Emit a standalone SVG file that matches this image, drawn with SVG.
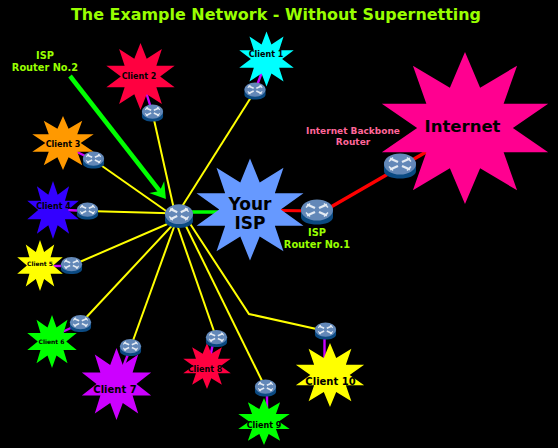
<svg xmlns="http://www.w3.org/2000/svg" xmlns:xlink="http://www.w3.org/1999/xlink" width="558" height="448" viewBox="0 0 558 448">
<style>
text{font-family:"DejaVu Sans","Liberation Sans",sans-serif;font-weight:bold;text-anchor:middle}
.lbl{fill:#99ff00;font-size:9.800px}
.cl{fill:#000;font-size:8px}
.y{stroke:#ffff00;stroke-width:2;fill:none}
.p{stroke:#cc00ff;stroke-width:2.400;fill:none}
</style>
<defs>
<polygon id="star" points="0,-1 .18,-.53 .62,-.82 .46,-.32 .99,-.32 .57,0 .99,.32 .46,.32 .62,.82 .18,.53 0,1 -.18,.53 -.62,.82 -.46,.32 -.99,.32 -.57,0 -.99,-.32 -.46,-.32 -.62,-.82 -.18,-.53"/>
<g id="router">
<path d="M-16,-4V5C-16,10 -8,12.500 0,12.500C8,12.500 16,10 16,5V-4Z" fill="#0b4a82"/>
<ellipse cx="0" cy="-2" rx="16" ry="10.500" fill="#6388b8"/>
<path d="M-10,-7.500L-2,-4M-10,3.500L-2,0M10,-7.500L2,-4M10,3.500L2,0" fill="none" stroke="#e4ebf3" stroke-width="2.400"/>
<path d="M-11,-4.500L-7,-8.500M-11,.5L-7,4.500M11,-4.500L7,-8.500M11,.5L7,4.500" fill="none" stroke="#e4ebf3" stroke-width="1.500"/>
</g>
<marker id="arr" markerUnits="userSpaceOnUse" markerWidth="20" markerHeight="20" refX="9" refY="10" orient="auto" viewBox="0 0 20 20"><path d="M17,10L2,0.500L7,10L2,19.500Z" fill="#00ff00"/></marker>
</defs>
<rect width="558" height="448" fill="#000"/>
<text x="276" y="20" style="font-size:16px;fill:#99ff00" textLength="410" lengthAdjust="spacingAndGlyphs">The Example Network - Without Supernetting</text>
<g id="connectors">
<path class="y" d="M176,216L255,91"/>
<path class="y" d="M175.500,216L152.500,113"/>
<path class="y" d="M179,220L93.500,160"/>
<path class="y" d="M179,213.500L87.500,211"/>
<path class="y" d="M179,219L71.500,265.500"/>
<path class="y" d="M181,216L80.500,323.500"/>
<path class="y" d="M178,216L130.500,347.500"/>
<path class="y" d="M174,216L216.500,338.500"/>
<path class="y" d="M181,216L265.500,388"/>
<path class="y" d="M185,216L249,314L325.500,331"/>
<path class="p" d="M256,88L262,72"/>
<path class="p" d="M152.500,113L146,92"/>
<path class="p" d="M93.500,160L75,151"/>
<path class="p" d="M87.500,211L66,210"/>
<path class="p" d="M71.500,266L52,266"/>
<path class="p" d="M80.500,323.500L60,333"/>
<path class="p" d="M130.500,347.500L122,370"/>
<path class="p" d="M214,338.500L210,358"/>
<path class="p" d="M267,388L267,410"/>
<path class="p" d="M324.500,331L324.500,362"/>
<path d="M179,212L225,212" stroke="#00ff00" stroke-width="3.500" fill="none"/>
<path d="M317,211L280,210.500" stroke="#ff0000" stroke-width="3" fill="none"/>
<path d="M317,215L430,149.700" stroke="#ff0000" stroke-width="3.500" fill="none"/>
<path d="M70,76L161,192.600" stroke="#00ff00" stroke-width="4.500" fill="none" marker-end="url(#arr)"/>
</g>
<g id="internet"><use xlink:href="#star" href="#star" transform="translate(465,128) scale(84,76)" fill="#ff0090"/><text x="462.500" y="132" style="font-size:16.500px">Internet</text></g>
<g id="your-isp"><use xlink:href="#star" href="#star" transform="translate(250,209.500) scale(54,51)" fill="#6699ff"/><text x="250" y="209.500" style="font-size:17px">Your</text><text x="250" y="229" style="font-size:17px">ISP</text></g>
<g id="client-1"><use xlink:href="#star" href="#star" transform="translate(266.500,59) scale(27.500,27.500)" fill="#00ffff"/><text x="266" y="57" class="cl">Client 1</text></g>
<g id="client-2"><use xlink:href="#star" href="#star" transform="translate(140.500,76.500) scale(34.500,33.500)" fill="#ff0040"/><text x="139" y="79" class="cl">Client 2</text></g>
<g id="client-3"><use xlink:href="#star" href="#star" transform="translate(63,143) scale(31,27)" fill="#ff9900"/><text x="63" y="147" class="cl">Client 3</text></g>
<g id="client-4"><use xlink:href="#star" href="#star" transform="translate(53,210) scale(26,29)" fill="#3300ff"/><text x="53.500" y="209" class="cl">Client 4</text></g>
<g id="client-5"><use xlink:href="#star" href="#star" transform="translate(40,265.500) scale(23,25.500)" fill="#ffff00"/><text x="40" y="266" class="cl" style="font-size:6px">Client 5</text></g>
<g id="client-6"><use xlink:href="#star" href="#star" transform="translate(52,341.500) scale(25,26.500)" fill="#00ff00"/><text x="51.500" y="344" class="cl" style="font-size:6px">Client 6</text></g>
<g id="client-7"><use xlink:href="#star" href="#star" transform="translate(116.500,384) scale(35,36)" fill="#cc00ff"/><text x="115" y="392.500" class="cl" style="font-size:10px">Client 7</text></g>
<g id="client-8"><use xlink:href="#star" href="#star" transform="translate(207,366) scale(24,23)" fill="#ff0040"/><text x="205" y="372" class="cl">Client 8</text></g>
<g id="client-9"><use xlink:href="#star" href="#star" transform="translate(264,421.500) scale(26,23.500)" fill="#00ff00"/><text x="264" y="428" class="cl">Client 9</text></g>
<g id="client-10"><use xlink:href="#star" href="#star" transform="translate(330,375) scale(34.500,32)" fill="#ffff00"/><text x="330.500" y="385" class="cl" style="font-size:10px">Client 10</text></g>
<g id="router-hub"><use xlink:href="#router" href="#router" transform="translate(179,216) scale(.875,.95)"/></g>
<g id="router-isp1"><use xlink:href="#router" href="#router" transform="translate(317,212)"/></g>
<g id="router-backbone"><use xlink:href="#router" href="#router" transform="translate(400,166)"/></g>
<g id="router-c1"><use xlink:href="#router" href="#router" transform="translate(255,91) scale(.66,.68)"/></g>
<g id="router-c2"><use xlink:href="#router" href="#router" transform="translate(152.500,113) scale(.66,.68)"/></g>
<g id="router-c3"><use xlink:href="#router" href="#router" transform="translate(93.500,160) scale(.66,.68)"/></g>
<g id="router-c4"><use xlink:href="#router" href="#router" transform="translate(87.500,211) scale(.66,.68)"/></g>
<g id="router-c5"><use xlink:href="#router" href="#router" transform="translate(71.500,265.500) scale(.66,.68)"/></g>
<g id="router-c6"><use xlink:href="#router" href="#router" transform="translate(80.500,323.500) scale(.66,.68)"/></g>
<g id="router-c7"><use xlink:href="#router" href="#router" transform="translate(130.500,347.500) scale(.66,.68)"/></g>
<g id="router-c8"><use xlink:href="#router" href="#router" transform="translate(216.500,338.500) scale(.66,.68)"/></g>
<g id="router-c9"><use xlink:href="#router" href="#router" transform="translate(265.500,388) scale(.66,.68)"/></g>
<g id="router-c10"><use xlink:href="#router" href="#router" transform="translate(325.500,331) scale(.66,.68)"/></g>
<g id="labels">
<text x="45" y="59" class="lbl">ISP</text>
<text x="45" y="71" class="lbl">Router No.2</text>
<text x="317" y="236" class="lbl">ISP</text>
<text x="317" y="248" class="lbl">Router No.1</text>
<text x="353" y="134" style="fill:#ff6699;font-size:9px">Internet Backbone</text>
<text x="353" y="145" style="fill:#ff6699;font-size:9px">Router</text>
</g>
</svg>
